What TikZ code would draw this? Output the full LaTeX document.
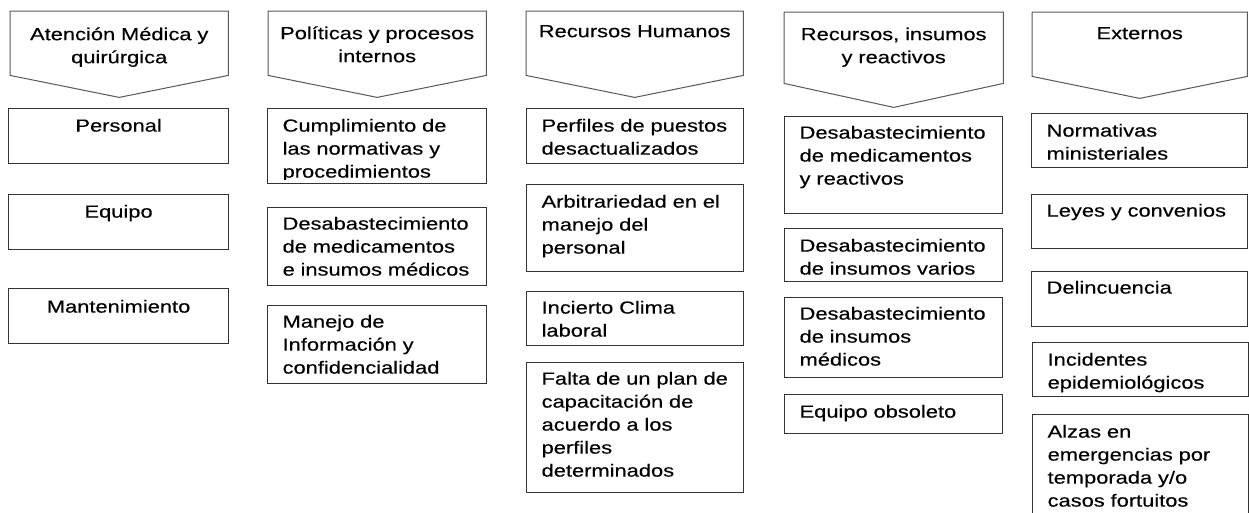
\documentclass[tikz,border=0pt]{standalone}
\usepackage{fontspec}
\setmainfont{Liberation Sans}[FakeStretch=1.25,FakeBold=0.3]
\usetikzlibrary{calc}
\newcommand\diagfont{\fontsize{17.5pt}{23pt}\selectfont}
\tikzset{
  frame/.style={draw=black!80, line width=1.2pt, anchor=north west, inner ysep=0pt, font=\diagfont},
  lbox/.style={frame, inner xsep=15pt, align=left},
  cbox/.style={frame, inner xsep=15pt, align=center},
  hdr/.style={anchor=north west, inner xsep=6pt, inner ysep=0pt, align=center, font=\diagfont},
  hshape/.style={draw=black!65, line width=1pt, line join=miter},
}
\begin{document}
\begin{tikzpicture}[x=1pt,y=-1pt]
\useasboundingbox (0,0) rectangle (1249,512);
\fill[white] (0,0) rectangle (1249,512);
\clip (0,0) rectangle (1249,512);

% headers
\node[hdr, text width=206pt, text height=29pt, text depth=35pt] (h1) at (10,11) {Atención~Médica~y\\quirúrgica};
\node[hdr, text width=206pt, text height=28pt, text depth=36pt] (h2) at (268,11) {Políticas~y~procesos\\internos};
\node[hdr, text width=205pt, text height=26pt, text depth=38pt] (h3) at (526,11) {Recursos~Humanos};
\node[hdr, text width=207pt, text height=28pt, text depth=43pt] (h4) at (784,12) {Recursos,~insumos\\y~reactivos};
\node[hdr, text width=203pt, text height=27pt, text depth=37pt] (h5) at (1032,12) {Externos};
\draw[hshape] (h1.north west) -- (h1.north east) -- (h1.south east) -- ($(h1.south)+(0,22)$) -- (h1.south west) -- cycle;
\draw[hshape] (h2.north west) -- (h2.north east) -- (h2.south east) -- ($(h2.south)+(0,22)$) -- (h2.south west) -- cycle;
\draw[hshape] (h3.north west) -- (h3.north east) -- (h3.south east) -- ($(h3.south)+(0,22)$) -- (h3.south west) -- cycle;
\draw[hshape] (h4.north west) -- (h4.north east) -- (h4.south east) -- ($(h4.south)+(0,24)$) -- (h4.south west) -- cycle;
\draw[hshape] (h5.north west) -- (h5.north east) -- (h5.south east) -- ($(h5.south)+(0,22)$) -- (h5.south west) -- cycle;

% column 1
\node[cbox, text width=190pt, text height=23pt, text depth=32pt] (c1a) at (8,108) {Personal};
\node[cbox, text width=190pt, text height=23pt, text depth=32pt] (c1b) at (8,194) {Equipo};
\node[cbox, text width=190pt, text height=24pt, text depth=31pt] (c1c) at (8,288) {Mantenimiento};

% column 2
\node[lbox, text width=189pt, text height=23pt, text depth=52pt] (c2a) at (267,108) {};
\begin{scope}
\clip (250,100) rectangle (500,179);
\node[lbox, draw=none, text width=189pt, text height=23pt, text depth=52pt] (c2at) at (267,108) {Cumplimiento~de\\las~normativas~y\\procedimientos};
\end{scope}
\node[lbox, text width=189pt, text height=22pt, text depth=56pt] (c2b) at (267,207) {Desabastecimiento\\de~medicamentos\\e~insumos~médicos};
\node[lbox, text width=189pt, text height=22pt, text depth=56pt] (c2c) at (267,305) {Manejo~de\\Información~y\\confidencialidad};

% column 3
\node[lbox, text width=187pt, text height=23pt, text depth=32pt] (c3a) at (526,108) {Perfiles~de~puestos\\desactualizados};
\node[lbox, text width=187pt, text height=23pt, text depth=64pt] (c3b) at (526,184) {Arbitrariedad~en~el\\manejo~del\\personal};
\node[lbox, text width=187pt, text height=22pt, text depth=32pt] (c3c) at (526,291) {Incierto~Clima\\laboral};
\node[lbox, text width=187pt, text height=22pt, text depth=108pt] (c3d) at (526,362) {Falta~de~un~plan~de\\capacitación~de\\acuerdo~a~los\\perfiles\\determinados};

% column 4
\node[lbox, text width=188pt, text height=22pt, text depth=75pt] (c4a) at (784,116) {Desabastecimiento\\de~medicamentos\\y~reactivos};
\node[lbox, text width=188pt, text height=23pt, text depth=30pt] (c4b) at (784,228) {Desabastecimiento\\de~insumos~varios};
\node[lbox, text width=188pt, text height=22pt, text depth=58pt] (c4c) at (784,297) {Desabastecimiento\\de~insumos\\médicos};
\node[lbox, text width=188pt, text height=23pt, text depth=16pt] (c4d) at (784,394) {Equipo~obsoleto};

% column 5
\node[lbox, text width=186pt, text height=23pt, text depth=31pt] (c5a) at (1031,113) {Normativas\\ministeriales};
\node[lbox, text width=186pt, text height=22pt, text depth=32pt] (c5b) at (1031,194) {Leyes~y~convenios};
\node[lbox, text width=186pt, text height=22pt, text depth=33pt] (c5c) at (1031,271) {Delincuencia};
\node[lbox, text width=186pt, text height=23pt, text depth=31pt] (c5d) at (1032,342) {Incidentes\\epidemiológicos};
\node[lbox, text width=186pt, text height=23pt, text depth=90pt] (c5e) at (1032,414) {Alzas~en\\emergencias~por\\temporada~y/o\\casos~fortuitos};
\end{tikzpicture}
\end{document}
